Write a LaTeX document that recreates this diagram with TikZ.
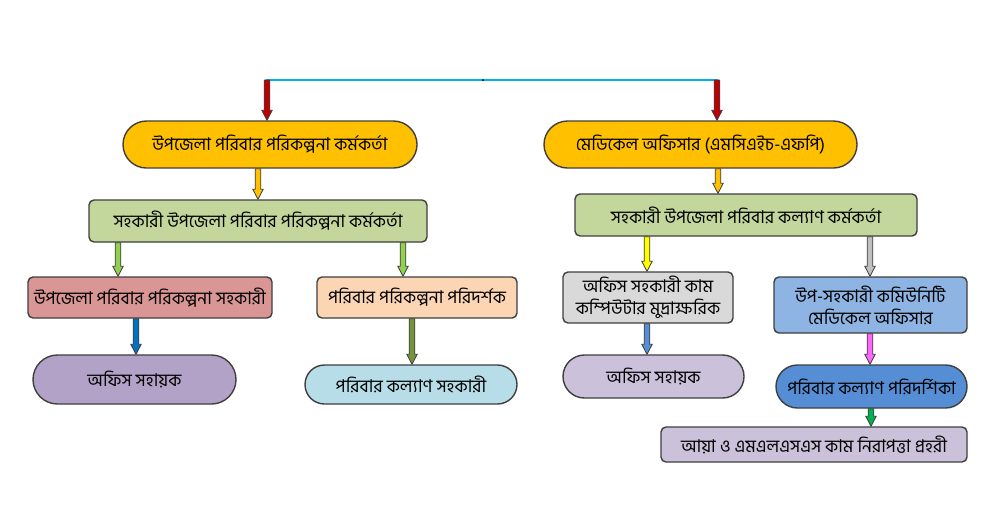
\documentclass[tikz,border=0pt]{standalone}
\usepackage{fontspec}
\newfontfamily\bengali[Script=Bengali]{Hind Siliguri}
\usepackage{tikz}
\usetikzlibrary{calc}
\usetikzlibrary{shapes.misc}
\definecolor{edge}{HTML}{3F3F3F}
\definecolor{gold}{HTML}{FFC000}
\definecolor{olivebox}{HTML}{C3D69B}
\definecolor{rosebox}{HTML}{D99694}
\definecolor{peachbox}{HTML}{FCD5B5}
\definecolor{purplepill}{HTML}{B3A2C7}
\definecolor{aquapill}{HTML}{B7DEE8}
\definecolor{greybox}{HTML}{D9D9D9}
\definecolor{lilac}{HTML}{CCC1DA}
\definecolor{skybox}{HTML}{8EB4E3}
\definecolor{bluepill}{HTML}{558ED5}
\definecolor{toplink}{HTML}{00B0F0}
\definecolor{arrred}{HTML}{C00000}
\definecolor{arrlime}{HTML}{92D050}
\definecolor{arrblue}{HTML}{0070C0}
\definecolor{arrolive}{HTML}{77933C}
\definecolor{arryellow}{HTML}{FFFF00}
\definecolor{arrgrey}{HTML}{BFBFBF}
\definecolor{arrpink}{HTML}{FF66FF}
\definecolor{arrgreen}{HTML}{00B050}
\tikzstyle{pill} = [rounded rectangle, draw=edge, line width=0.7pt,
    inner sep=0pt, align=center, font=\bengali\fontsize{8.8}{11}\selectfont]
\tikzstyle{box} = [rectangle, rounded corners=2.5pt, draw=edge, line width=0.7pt,
    inner sep=0pt, align=center, font=\bengali\fontsize{8.8}{11}\selectfont]
\tikzset{sz/.style 2 args={minimum width=#1*0.5pt, minimum height=#2*0.5pt}}
\tikzstyle{arrowline} = [draw=edge, line width=0.4pt, line join=miter]
% block arrow: colour, x, from, to
\newcommand{\blockarrow}[4]{%
  \path (#2,0) coordinate (ba-x);
  \draw[arrowline, fill=#1] let \p1=(ba-x |- #3), \p2=(ba-x |- #4) in
    (\x1-1.4pt,\y1) -- (\x1-1.4pt,\y2+5pt) -- (\x1-2.6pt,\y2+5pt) -- (\x2,\y2)
    -- (\x1+2.6pt,\y2+5pt) -- (\x1+1.4pt,\y2+5pt) -- (\x1+1.4pt,\y1) -- cycle;
}

\begin{document}
\begin{tikzpicture}[x=0.5pt, y=-0.5pt]
\fill[white] (0,0) rectangle (985,505);
\useasboundingbox (0,0) rectangle (985,505);
    %top link
    \coordinate (linel) at (266,80);
    \coordinate (liner) at (718,80);
    \draw[toplink, line width=0.8pt] (linel) -- (liner);
    \fill[black] (483,80) circle (0.5pt);
    %left branch
    \node[pill, fill=gold, sz={294}{47}] (upfpo) at (270,144.5)
        {উপজেলা পরিবার পরিকল্পনা কর্মকর্তা};
    \node[box, fill=olivebox, sz={338}{42}] (aufpo) at (258,221)
        {সহকারী উপজেলা পরিবার পরিকল্পনা কর্মকর্তা};
    \node[box, fill=rosebox, sz={244}{41}] (ufpa) at (150,297.5)
        {উপজেলা পরিবার পরিকল্পনা সহকারী};
    \node[box, fill=peachbox, sz={200}{41}] (fpi) at (417,297.5)
        {পরিবার পরিকল্পনা পরিদর্শক};
    \node[pill, fill=purplepill, sz={203}{49}] (osl) at (134.5,379.5)
        {অফিস সহায়ক};
    \node[pill, fill=aquapill, sz={212}{39}] (fwa) at (411,384.5)
        {পরিবার কল্যাণ সহকারী};
    %right branch
    \node[pill, fill=gold, sz={313}{47}] (mo) at (700.5,144.5)
        {মেডিকেল অফিসার (এমসিএইচ-এফপি)};
    \node[box, fill=olivebox, sz={342}{42}] (aufwo) at (746,215)
        {সহকারী উপজেলা পরিবার কল্যাণ কর্মকর্তা};
    \node[box, fill=greybox, sz={170}{51}] (oac) at (648,297.5)
        {অফিস সহকারী কাম\\কম্পিউটার মুদ্রাক্ষরিক};
    \node[pill, fill=lilac, sz={181}{43}] (osr) at (653.5,376.5)
        {অফিস সহায়ক};
    \node[box, fill=skybox, sz={193}{56}] (sacmo) at (870.5,305)
        {উপ-সহকারী কমিউনিটি\\মেডিকেল অফিসার};
    \node[pill, fill=bluepill, sz={191}{43}] (fwv) at (871.5,386.5)
        {পরিবার কল্যাণ পরিদর্শিকা};
    \node[box, fill=lilac, sz={306}{35}] (aya) at (814,444.5)
        {আয়া ও এমএলএসএস কাম নিরাপত্তা প্রহরী};
    %arrows
    \blockarrow{arrred}{267}{linel}{upfpo.north}
    \blockarrow{arrred}{717}{liner}{mo.north}
    \blockarrow{gold}{258}{upfpo.south}{aufpo.north}
    \blockarrow{gold}{718}{mo.south}{aufwo.north}
    \blockarrow{arrlime}{118}{aufpo.south}{ufpa.north}
    \blockarrow{arrlime}{403}{aufpo.south}{fpi.north}
    \blockarrow{arrblue}{136}{ufpa.south}{osl.north}
    \blockarrow{arrolive}{412}{fpi.south}{fwa.north}
    \blockarrow{arryellow}{647}{aufwo.south}{oac.north}
    \blockarrow{arrgrey}{870}{aufwo.south}{sacmo.north}
    \blockarrow{bluepill}{647}{oac.south}{osr.north}
    \blockarrow{arrpink}{870}{sacmo.south}{fwv.north}
    \blockarrow{arrgreen}{871}{fwv.south}{aya.north}
\end{tikzpicture}
\end{document}
